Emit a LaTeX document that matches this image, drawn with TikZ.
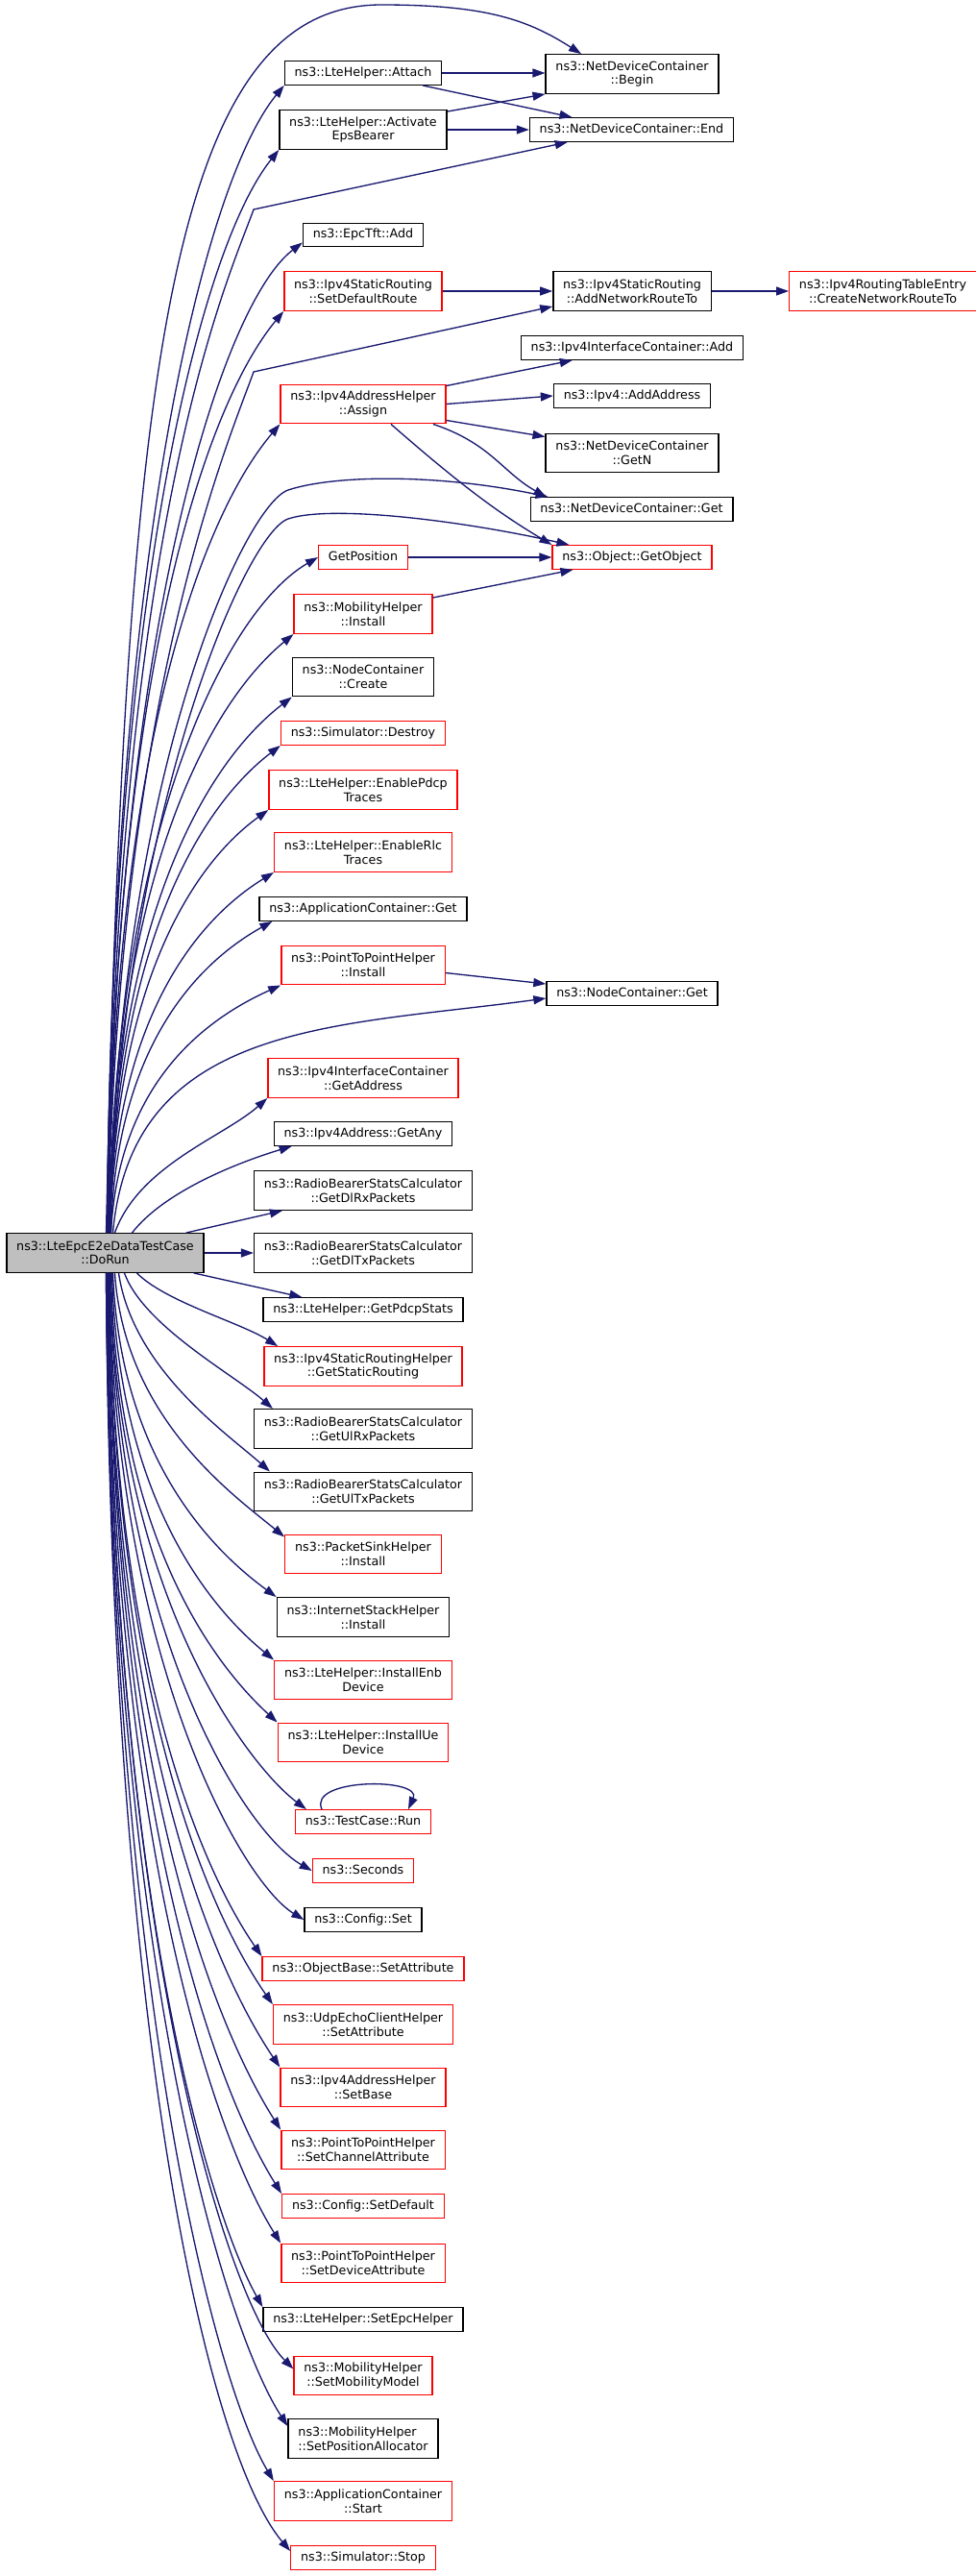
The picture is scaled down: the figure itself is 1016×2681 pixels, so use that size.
\documentclass[tikz,border=0pt]{standalone}
\usepackage{fontspec}
\setmainfont{DejaVu Sans}
\usepackage{tikz}
\usetikzlibrary{arrows.meta}

\definecolor{edgeblue}{HTML}{191970}
\definecolor{callergrey}{HTML}{BFBFBF}

\tikzset{
  box/.style={draw=black, fill=white, inner xsep=10.3pt, inner ysep=6pt,
    font=\fontsize{12.7}{14.7}\selectfont, align=center},
  fn/.style={box, text height=9.6pt, text depth=3pt},
  fnn/.style={box, minimum height=40.6pt},
  redbox/.style={draw=red},
  call/.style={draw=edgeblue}
}

\begin{document}
\begin{tikzpicture}[x=1pt,y=-1pt,line width=1.33pt,->,>={Triangle[length=13pt,width=9pt]}]
  \path[use as bounding box,fill=white,-] (0,0) rectangle (1016,2681);

  % caller
  \node[fnn,fill=callergrey] (dorun) at (109.5,1304) {ns3::LteEpcE2eDataTestCase\\::DoRun};

  % called functions
  \node[fn] (attach) at (378,76) {ns3::LteHelper::Attach};
  \node[fnn] (activate) at (378,135) {ns3::LteHelper::Activate\\EpsBearer};
  \node[fn] (epctftadd) at (378,244.5) {ns3::EpcTft::Add};
  \node[fnn,redbox] (setdefroute) at (378,303) {ns3::Ipv4StaticRouting\\::SetDefaultRoute};
  \node[fnn,redbox] (assign) at (378,420.5) {ns3::Ipv4AddressHelper\\::Assign};
  \node[fn,redbox] (getpos) at (378,580) {GetPosition};
  \node[fnn,redbox] (mobinstall) at (378,639) {ns3::MobilityHelper\\::Install};
  \node[fnn] (nccreate) at (378,704.5) {ns3::NodeContainer\\::Create};
  \node[fn,redbox] (simdestroy) at (378,763) {ns3::Simulator::Destroy};
  \node[fnn,redbox] (pdcptraces) at (378,822) {ns3::LteHelper::EnablePdcp\\Traces};
  \node[fnn,redbox] (rlctraces) at (378,887) {ns3::LteHelper::EnableRlc\\Traces};
  \node[fn] (appget) at (378,946) {ns3::ApplicationContainer::Get};
  \node[fnn,redbox] (p2pinstall) at (378,1004.5) {ns3::PointToPointHelper\\::Install};
  \node[fnn,redbox] (getaddress) at (378,1122) {ns3::Ipv4InterfaceContainer\\::GetAddress};
  \node[fn] (getany) at (378,1180) {ns3::Ipv4Address::GetAny};
  \node[fnn] (dlrx) at (378,1239) {ns3::RadioBearerStatsCalculator\\::GetDlRxPackets};
  \node[fnn] (dltx) at (378,1304) {ns3::RadioBearerStatsCalculator\\::GetDlTxPackets};
  \node[fn] (pdcpstats) at (378,1363) {ns3::LteHelper::GetPdcpStats};
  \node[fnn,redbox] (staticrouting) at (378,1422) {ns3::Ipv4StaticRoutingHelper\\::GetStaticRouting};
  \node[fnn] (ulrx) at (378,1487) {ns3::RadioBearerStatsCalculator\\::GetUlRxPackets};
  \node[fnn] (ultx) at (378,1552.5) {ns3::RadioBearerStatsCalculator\\::GetUlTxPackets};
  \node[fnn,redbox] (sinkinstall) at (378,1617.5) {ns3::PacketSinkHelper\\::Install};
  \node[fnn] (stackinstall) at (378,1683) {ns3::InternetStackHelper\\::Install};
  \node[fnn,redbox] (installenb) at (378,1748.5) {ns3::LteHelper::InstallEnb\\Device};
  \node[fnn,redbox] (installue) at (378,1813.5) {ns3::LteHelper::InstallUe\\Device};
  \node[fn,redbox] (testrun) at (378,1896) {ns3::TestCase::Run};
  \node[fn,redbox] (seconds) at (378,1947) {ns3::Seconds};
  \node[fn] (configset) at (378,1998) {ns3::Config::Set};
  \node[fn,redbox] (setattr) at (378,2049) {ns3::ObjectBase::SetAttribute};
  \node[fnn,redbox] (udpsetattr) at (378,2107) {ns3::UdpEchoClientHelper\\::SetAttribute};
  \node[fnn,redbox] (setbase) at (378,2172.5) {ns3::Ipv4AddressHelper\\::SetBase};
  \node[fnn,redbox] (setchannel) at (378,2237.5) {ns3::PointToPointHelper\\::SetChannelAttribute};
  \node[fn,redbox] (setdefault) at (378,2296) {ns3::Config::SetDefault};
  \node[fnn,redbox] (setdevice) at (378,2355.5) {ns3::PointToPointHelper\\::SetDeviceAttribute};
  \node[fn] (setepc) at (378,2414) {ns3::LteHelper::SetEpcHelper};
  \node[fnn,redbox] (setmobmodel) at (378,2472.5) {ns3::MobilityHelper\\::SetMobilityModel};
  \node[fnn,align=left] (setposalloc) at (378,2538) {ns3::MobilityHelper\\::SetPositionAllocator};
  \node[fnn,redbox] (appstart) at (378,2603) {ns3::ApplicationContainer\\::Start};
  \node[fn,redbox] (simstop) at (378,2662) {ns3::Simulator::Stop};

  % second level
  \node[fnn] (ndcbegin) at (658,77) {ns3::NetDeviceContainer\\::Begin};
  \node[fn] (ndcend) at (657.5,135) {ns3::NetDeviceContainer::End};
  \node[fnn] (addroute) at (658,303) {ns3::Ipv4StaticRouting\\::AddNetworkRouteTo};
  \node[fnn,redbox] (createroute) at (919,303) {ns3::Ipv4RoutingTableEntry\\::CreateNetworkRouteTo};
  \node[fn] (ifcadd) at (658,362) {ns3::Ipv4InterfaceContainer::Add};
  \node[fn] (addaddress) at (658,412) {ns3::Ipv4::AddAddress};
  \node[fnn] (ndcgetn) at (658,471.5) {ns3::NetDeviceContainer\\::GetN};
  \node[fn] (ndcget) at (657.5,530) {ns3::NetDeviceContainer::Get};
  \node[fn,redbox] (getobject) at (658,580) {ns3::Object::GetObject};
  \node[fn] (ncget) at (658,1034) {ns3::NodeContainer::Get};

  % calls going up
  \draw[call] ([xshift=1pt]dorun.north) .. controls +(20,-900) and +(-220,0) .. (397,5) .. controls +(110,0) and +(-55,-35) .. ([xshift=-53pt]ndcbegin.north);
  \draw[call] ([xshift=2pt]dorun.north) .. controls +(10,-750) and +(-25,70) .. (264,218) -- ([xshift=40pt]ndcend.south west);
  \draw[call] ([xshift=3pt]dorun.north) .. controls +(10,-560) and +(-25,70) .. (264,387) -- ([yshift=5pt]addroute.south west);
  \draw[call] ([xshift=4pt]dorun.north) .. controls +(10,-480) and +(-45,15) .. (300,510) .. controls +(45,-15) and +(-120,-25) .. ([xshift=19pt]ndcget.north west);
  \draw[call] ([xshift=5pt]dorun.north) .. controls +(10,-430) and +(-45,15) .. (300,540) .. controls +(45,-15) and +(-110,-25) .. ([xshift=18pt]getobject.north west);
  \draw[call] ([xshift=8pt]dorun.north) .. controls +(20,-220) and +(-220,30) .. ([yshift=-5pt]ncget.west);
  \draw[call] ([xshift=2pt]dorun.north) .. controls +(5,-717) and +(-82,100) .. (attach.south west);
  \draw[call] ([xshift=2pt]dorun.north) .. controls +(5,-677) and +(-80,100) .. (activate.south west);
  \draw[call] ([xshift=3pt]dorun.north) .. controls +(6,-619) and +(-85,65) .. ([yshift=5pt]epctftadd.south west);
  \draw[call] ([xshift=3pt]dorun.north) .. controls +(5,-577) and +(-83,100) .. (setdefroute.south west);
  \draw[call] ([xshift=3pt]dorun.north) .. controls +(5,-506) and +(-80,94) .. (assign.south west);
  \draw[call] ([xshift=4pt]dorun.north) .. controls +(6,-422) and +(-95,55) .. (getpos.west);
  \draw[call] ([xshift=4pt]dorun.north) .. controls +(6,-375) and +(-87,72) .. (mobinstall.south west);
  \draw[call] ([xshift=4pt]dorun.north) .. controls +(6,-335) and +(-86,66) .. (nccreate.south west);
  \draw[call] ([xshift=5pt]dorun.north) .. controls +(5,-305) and +(-80,61) .. (simdestroy.south west);
  \draw[call] ([xshift=5pt]dorun.north) .. controls +(5,-265) and +(-75,54) .. (pdcptraces.south west);
  \draw[call] ([xshift=5pt]dorun.north) .. controls +(5,-226) and +(-78,48) .. (rlctraces.south west);
  \draw[call] ([xshift=6pt]dorun.north) .. controls +(5,-195) and +(-77,43) .. ([xshift=14pt]appget.south west);
  \draw[call] ([xshift=6pt]dorun.north) .. controls +(8,-155) and +(-80,36) .. (p2pinstall.south west);
  \draw[call] ([xshift=10pt]dorun.north) .. controls +(25,-70) and +(-45,40) .. (getaddress.south west);
  \draw[call] ([xshift=28pt]dorun.north) .. controls +(35,-45) and +(-50,15) .. ([xshift=19pt]getany.south west);
  \draw[call] ([xshift=-19pt]dorun.north east) -- ([xshift=30pt]dlrx.south west);
  \draw[call] (dorun.east) -- (dltx.west);

  % calls going down
  \draw[call] ([xshift=-11pt]dorun.south east) -- ([xshift=41pt]pdcpstats.north west);
  \draw[call] ([xshift=33pt]dorun.south) .. controls +(30,30) and +(-40,-25) .. ([xshift=15pt]staticrouting.north west);
  \draw[call] ([xshift=20pt]dorun.south) .. controls +(20,55) and +(-40,-35) .. ([xshift=20pt]ulrx.north west);
  \draw[call] ([xshift=14pt]dorun.south) .. controls +(15,100) and +(-45,-40) .. ([xshift=17pt]ultx.north west);
  \draw[call] ([xshift=10pt]dorun.south) .. controls +(10,150) and +(-55,-45) .. ([yshift=-3pt]sinkinstall.north west);
  \draw[call] ([xshift=8pt]dorun.south) .. controls +(8,200) and +(-60,-44) .. (stackinstall.north west);
  \draw[call] ([xshift=7pt]dorun.south) .. controls +(7,242) and +(-61,-50) .. (installenb.north west);
  \draw[call] ([xshift=6pt]dorun.south) .. controls +(6,281) and +(-62,-57) .. (installue.north west);
  \draw[call] ([xshift=5pt]dorun.south) .. controls +(6,335) and +(-60,-45) .. ([xshift=12pt]testrun.north west);
  \draw[call] ([xshift=5pt]dorun.south) .. controls +(6,374) and +(-70,-40) .. (seconds.west);
  \draw[call] ([xshift=4pt]dorun.south) .. controls +(6,404) and +(-65,-40) .. (configset.west);
  \draw[call] ([xshift=4pt]dorun.south) .. controls +(5,427) and +(-56,-81) .. (setattr.north west);
  \draw[call] ([xshift=4pt]dorun.south) .. controls +(5,458) and +(-60,-86) .. (udpsetattr.north west);
  \draw[call] ([xshift=3pt]dorun.south) .. controls +(5,497) and +(-63,-93) .. (setbase.north west);
  \draw[call] ([xshift=3pt]dorun.south) .. controls +(5,536) and +(-63,-99) .. (setchannel.north west);
  \draw[call] ([xshift=3pt]dorun.south) .. controls +(5,575) and +(-63,-100) .. (setdefault.north west);
  \draw[call] ([xshift=2pt]dorun.south) .. controls +(5,607) and +(-63,-100) .. (setdevice.north west);
  \draw[call] ([xshift=2pt]dorun.south) .. controls +(5,646) and +(-56,-100) .. (setepc.north west);
  \draw[call] ([xshift=2pt]dorun.south) .. controls +(5,689) and +(-70,-70) .. ([yshift=7pt]setmobmodel.west);
  \draw[call] ([xshift=1pt]dorun.south) .. controls +(5,721) and +(-65,-100) .. ([yshift=-8pt]setposalloc.north west);
  \draw[call] ([xshift=1pt]dorun.south) .. controls +(5,755) and +(-60,-100) .. (appstart.north west);
  \draw[call] ([xshift=1pt]dorun.south) .. controls +(5,799) and +(-85,-100) .. ([yshift=7pt]simstop.west);

  % calls from the called functions
  \draw[call] (attach.east) -- (ndcbegin.west |- attach.east);
  \draw[call] ([xshift=62pt]attach.south) -- ([xshift=-62pt]ndcend.north);
  \draw[call] ([yshift=-2pt]activate.north east) -- (ndcbegin.south west);
  \draw[call] (activate.east) -- (ndcend.west);
  \draw[call] (setdefroute) -- (addroute);
  \draw[call] (addroute) -- (createroute);
  \draw[call] ([yshift=-2pt]assign.north east) -- ([xshift=54pt]ifcadd.south west);
  \draw[call] (assign.east) -- (addaddress.west);
  \draw[call] ([yshift=4pt]assign.south east) -- ([yshift=-4pt]ndcgetn.north west);
  \draw[call] ([xshift=73pt]assign.south) .. controls +(60,20) and +(-45,-25) .. ([xshift=17pt]ndcget.north west);
  \draw[call] ([xshift=29pt]assign.south) .. controls +(80,70) and +(-50,-30) .. (getobject.north west);
  \draw[call] (getpos) -- (getobject);
  \draw[call] ([yshift=-4pt]mobinstall.north east) -- ([xshift=22pt]getobject.south west);
  \draw[call] ([yshift=-8pt]p2pinstall.east) -- ([yshift=10pt]ncget.west);
  \draw[call] ([xshift=-43pt]testrun.north) .. controls +(-15,-33) and +(15,-33) .. ([xshift=47pt]testrun.north);
\end{tikzpicture}
\end{document}
